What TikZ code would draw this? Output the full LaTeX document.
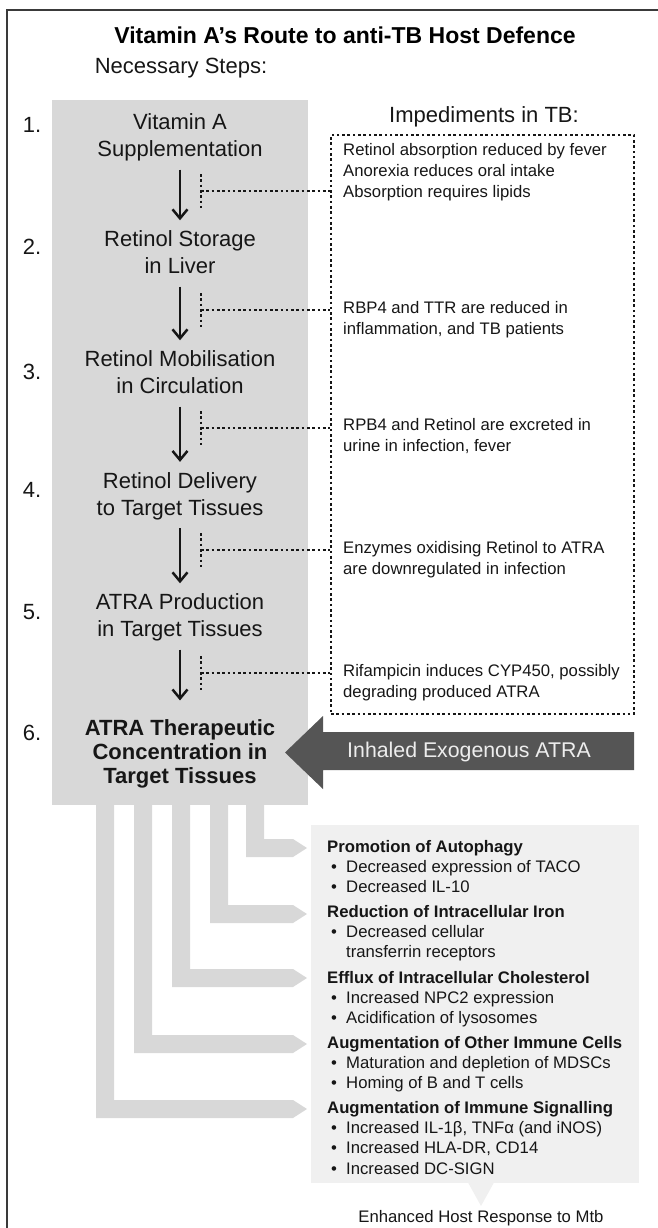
\documentclass[tikz,border=0pt]{standalone}
\usepackage{fontspec}
\setmainfont{Liberation Sans}
\usepackage{tikz}
\usetikzlibrary{arrows.meta}

\definecolor{colgray}{HTML}{D8D8D8}
\definecolor{effgray}{HTML}{F0F0F0}
\definecolor{inhgray}{HTML}{555555}
\definecolor{framegray}{HTML}{3A3A3A}
\definecolor{txt}{HTML}{161616}

\newcommand{\effitem}{\hspace*{4pt}\makebox[15pt][l]{•}}

\begin{document}
\begin{tikzpicture}[x=1pt,y=-1pt,
    stepnode/.style={align=center,text=txt,inner sep=0pt,font=\fontsize{22}{27}\selectfont,
      execute at begin node=\strut,execute at end node=\strut},
    numnode/.style={text=txt,inner sep=0pt,font=\fontsize{22}{27}\selectfont},
    impnode/.style={anchor=north west,align=left,text=txt,inner sep=0pt,
      font=\fontsize{16.7}{21}\selectfont,execute at begin node=\strut,execute at end node=\strut},
    effnode/.style={anchor=north west,align=left,text=txt,inner sep=0pt,
      font=\fontsize{16.7}{20.3}\selectfont,execute at begin node=\strut,execute at end node=\strut},
    dotline/.style={line width=2.6pt,dash pattern=on 2.6pt off 2.7pt,draw=txt},
    steparrow/.style={line width=2.5pt,draw=txt,-{Straight Barb[length=9pt,width=15pt]},
      shorten <=5pt,shorten >=10pt}]
  \useasboundingbox (0,0) rectangle (657,1228);
  % Draw frame (top and left edges)
  \draw[framegray,line width=2pt] (7,1240) -- (7,10) -- (670,10);
  % Headings
  \node[text=black,font=\bfseries\fontsize{23}{27}\selectfont] (title) at (345,35)
    {Vitamin A’s Route to anti-TB Host Defence};
  \node[text=txt,font=\fontsize{22}{27}\selectfont] (necessary) at (181,68) {Necessary Steps:};
  \node[text=txt,font=\fontsize{22}{27}\selectfont] (impediments) at (484,117) {Impediments in TB:};

  % Draw grey column of steps
  \node[fill=colgray,minimum width=256pt,minimum height=705pt,inner sep=0pt] (col) at (180,452.5) {};
  % Branches from the column to the effects
  \foreach \bx/\by in {96/1109,134/1044,172/978,210/914,246/848}
    \fill[colgray] (\bx,805) -- (\bx+18,805) -- (\bx+18,\by-9) -- (293,\by-9)
      -- (307,\by) -- (293,\by+9) -- (\bx,\by+9) -- cycle;

  % Step numbers
  \node[numnode] (n1) at (32,125) {1.};
  \node[numnode] (n2) at (32,247) {2.};
  \node[numnode] (n3) at (32,372) {3.};
  \node[numnode] (n4) at (32,490) {4.};
  \node[numnode] (n5) at (32,612) {5.};
  \node[numnode] (n6) at (32,733) {6.};

  % Steps
  \node[stepnode] (s1) at (180,139) {Vitamin A\\Supplementation};
  \node[stepnode] (s2) at (180,256) {Retinol Storage\\in Liver};
  \node[stepnode] (s3) at (180,376) {Retinol Mobilisation\\in Circulation};
  \node[stepnode] (s4) at (180,497.6) {Retinol Delivery\\to Target Tissues};
  \node[stepnode] (s5) at (180,619) {ATRA Production\\in Target Tissues};
  \node[stepnode,font=\bfseries\fontsize{22}{24}\selectfont] (s6) at (180,755.2)
    {ATRA Therapeutic\\Concentration in\\Target Tissues};
  \foreach \a/\b in {s1/s2,s2/s3,s3/s4,s4/s5}
    \draw[steparrow] (\a) -- (\b);
  \draw[steparrow,shorten >=19pt] (s5) -- (s6);

  % Draw dotted box of impediments
  \node[dotline,minimum width=303pt,minimum height=579pt,inner sep=0pt] (impbox) at (482.5,424.5) {};
  \node[impnode] (i1) at (343,143.3) {Retinol absorption reduced by fever\\Anorexia reduces oral intake\\Absorption requires lipids};
  \node[impnode] (i2) at (343,301.3) {RBP4 and TTR are reduced in\\inflammation, and TB patients};
  \node[impnode] (i3) at (343,418.3) {RPB4 and Retinol are excreted in\\urine in infection, fever};
  \node[impnode] (i4) at (343,541.3) {Enzymes oxidising Retinol to ATRA\\are downregulated in infection};
  \node[impnode] (i5) at (343,664.3) {Rifampicin induces CYP450, possibly\\degrading produced ATRA};
  % Dotted tees from the arrows to the box
  \foreach \ty [count=\i] in {191,310,428,550,673} {
    \coordinate (tee\i) at (201,\ty);
    \draw[dotline] ([yshift=17pt]tee\i) -- ([yshift=-17pt]tee\i);
    \draw[dotline] (tee\i) -- (tee\i -| impbox.west);
  }

  % Inhaled ATRA block arrow
  \fill[inhgray] (634,732) -- (323,732) -- (323,716) -- (285,752.5) -- (323,789)
    -- (323,770) -- (634,770) -- cycle;
  \node[text=white!93!black,font=\fontsize{21.3}{25}\selectfont] (inhaled) at (469,752) {Inhaled Exogenous ATRA};

  % Draw box of effects
  \node[fill=effgray,minimum width=328pt,minimum height=358pt,inner sep=0pt] (effbox) at (475,1004) {};
  \fill[effgray] (468,1182.5) -- (481,1206) -- (494,1182.5) -- cycle;
  \node[effnode] (auto) at (327,839.8) {\textbf{Promotion of Autophagy}\\
    \effitem Decreased expression of TACO\\
    \effitem Decreased IL-10};
  \node[effnode] (iron) at (327,904.8) {\textbf{Reduction of Intracellular Iron}\\
    \effitem Decreased cellular\\
    \hspace*{19pt}transferrin receptors};
  \node[effnode] (chol) at (327,970.8) {\textbf{Efflux of Intracellular Cholesterol}\\
    \effitem Increased NPC2 expression\\
    \effitem Acidification of lysosomes};
  \node[effnode] (cells) at (327,1035.8) {\textbf{Augmentation of Other Immune Cells}\\
    \effitem Maturation and depletion of MDSCs\\
    \effitem Homing of B and T cells};
  \node[effnode] (signal) at (327,1100.8) {\textbf{Augmentation of Immune Signalling}\\
    \effitem Increased IL-1β, TNFα (and iNOS)\\
    \effitem Increased HLA-DR, CD14\\
    \effitem Increased DC-SIGN};
  \node[text=txt,font=\fontsize{16.7}{20}\selectfont] (response) at (481,1218) {Enhanced Host Response to Mtb};
\end{tikzpicture}
\end{document}
